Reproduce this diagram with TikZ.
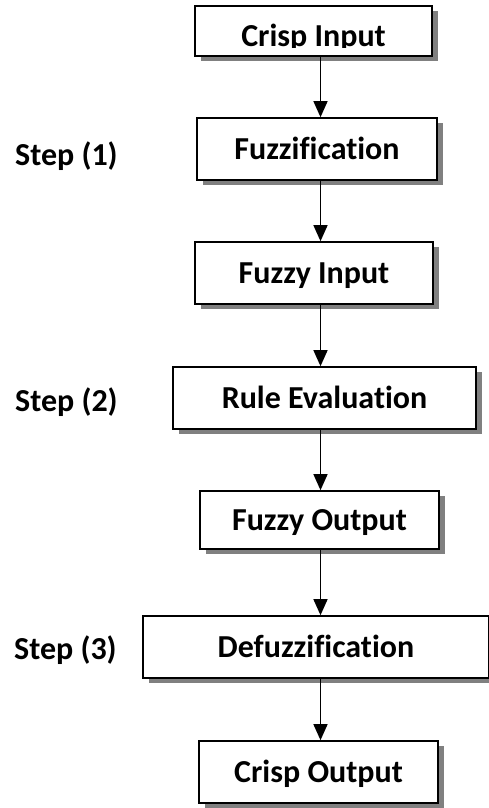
\documentclass[tikz,border=0pt]{standalone}
\usepackage{fontspec}
\setmainfont{Carlito}[Ligatures=NoCommon]
\usetikzlibrary{arrows.meta,shadows}
\definecolor{shadowgray}{HTML}{808080}
\begin{document}
\begin{tikzpicture}[x=1pt,y=-1pt,
  boxstyle/.style={draw=black, line width=1.6pt, fill=white, rectangle, inner sep=0pt,
    font=\fontsize{32}{34}\selectfont\bfseries, text height=21pt, text depth=0pt,
    drop shadow={shadow xshift=6pt, shadow yshift=-5pt, fill=shadowgray, opacity=1, draw=none}},
  boxtext/.style={inner sep=0pt, anchor=base, font=\fontsize{32}{34}\selectfont\bfseries},
  steplabel/.style={anchor=base west, inner sep=0pt, font=\fontsize{32}{34}\selectfont\bfseries},
  arr/.style={line width=1.3pt, -{Triangle[width=14pt,length=16pt]}}]
\useasboundingbox (0,0) rectangle (488,808);
\node[boxstyle, minimum width=237pt, minimum height=50pt] (ci) at (313.5,31) {};
\begin{scope}
  \clip (195,6) rectangle (432,47.5);
  \node[boxtext] (citext) at (313.5,46.5) {Crisp Input};
\end{scope}
\node[boxstyle, minimum width=240pt, minimum height=62pt] (fz) at (317,149) {Fuzzification};
\node[boxstyle, minimum width=238pt, minimum height=62pt] (fi) at (314,273) {Fuzzy Input};
\node[boxstyle, minimum width=303pt, minimum height=62pt] (re) at (324.5,398) {Rule Evaluation};
\node[boxstyle, minimum width=239pt, minimum height=58pt] (fo) at (319.5,520) {Fuzzy Output};
\node[boxstyle, minimum width=346pt, minimum height=62pt] (df) at (316,647) {Defuzzification};
\node[boxstyle, minimum width=239pt, minimum height=62pt] (co) at (318.5,772) {Crisp Output};
\node[steplabel] (s1) at (15,165) {Step (1)};
\node[steplabel] (s2) at (15,411.7) {Step (2)};
\node[steplabel] (s3) at (14,659) {Step (3)};
\coordinate (ax) at (320.5,0);
\draw[arr] (ci.south -| ax) -- (fz.north -| ax);
\draw[arr] (fz.south -| ax) -- (fi.north -| ax);
\draw[arr] (fi.south -| ax) -- (re.north -| ax);
\draw[arr] (re.south -| ax) -- (fo.north -| ax);
\draw[arr] (fo.south -| ax) -- (df.north -| ax);
\draw[arr] (df.south -| ax) -- (co.north -| ax);
\end{tikzpicture}
\end{document}
